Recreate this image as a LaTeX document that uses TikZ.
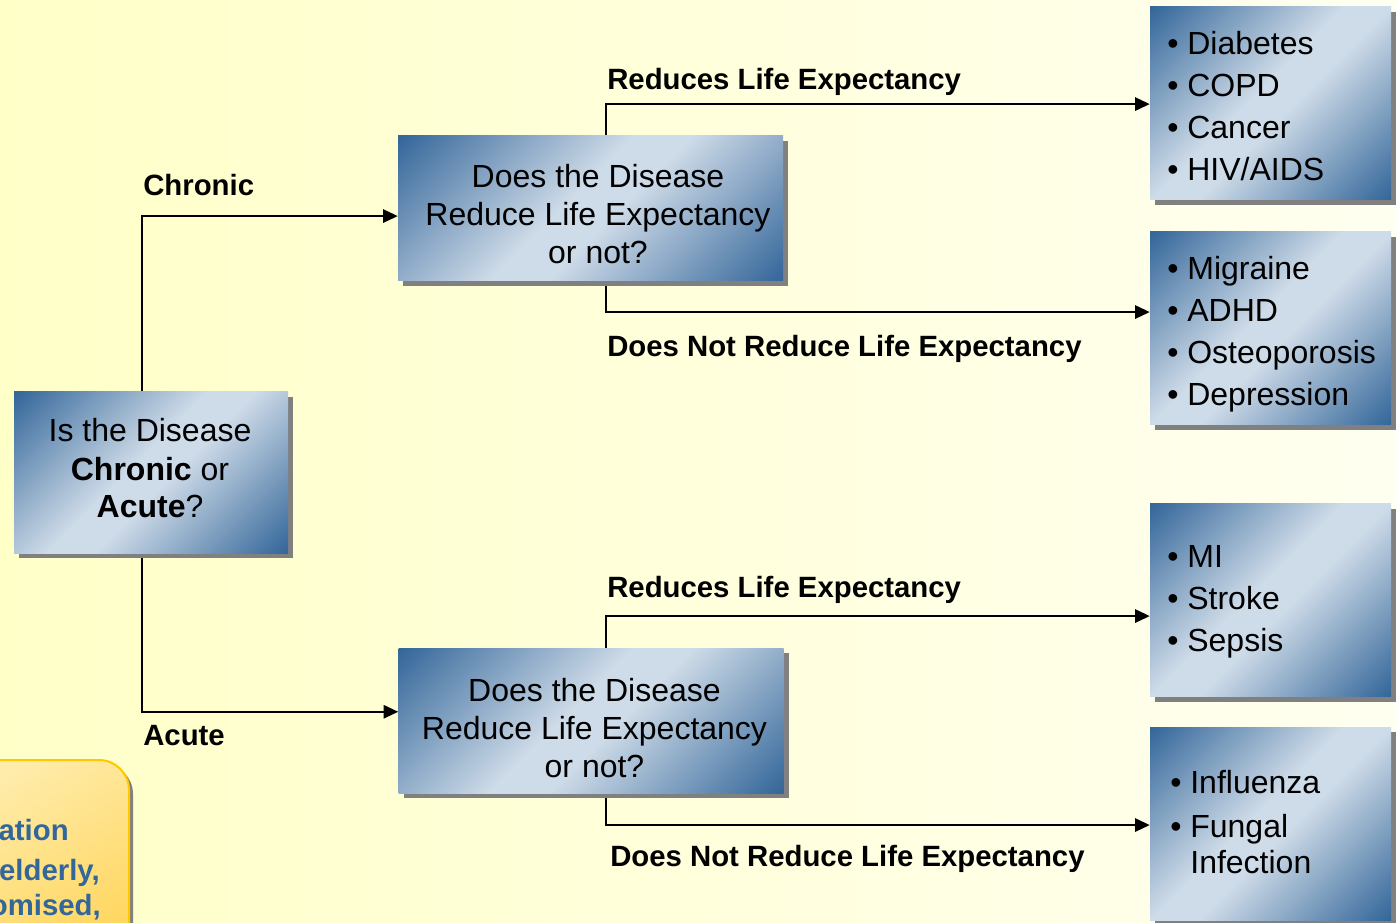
\documentclass[tikz,border=0pt]{standalone}
\usepackage{fontspec}
\setmainfont{Liberation Sans}
\usetikzlibrary{arrows.meta,shadows,calc}
\definecolor{dkb}{RGB}{51,102,153}
\definecolor{ltb}{RGB}{206,219,232}
\definecolor{bgL}{RGB}{255,255,200}
\definecolor{bgR}{RGB}{255,255,240}
\definecolor{shgray}{RGB}{128,128,128}
\definecolor{coA}{RGB}{255,236,170}
\definecolor{coB}{RGB}{255,212,90}
\definecolor{coLine}{RGB}{255,200,0}
\definecolor{coText}{RGB}{51,102,153}
\pgfdeclareverticalshading{boxshade}{100bp}{color(0bp)=(dkb); color(14.6bp)=(dkb); color(46bp)=(ltb); color(54bp)=(ltb); color(85.4bp)=(dkb); color(100bp)=(dkb)}
\pgfdeclarelayer{bg}
\pgfsetlayers{bg,main}
\begin{document}
\begin{tikzpicture}[x=0.75pt,y=-0.75pt,
  box/.style={draw=none, inner sep=0pt, shading=boxshade, shading angle=45,
    drop shadow={shadow xshift=3.75pt, shadow yshift=-3.75pt, fill=shgray, opacity=1}},
  wide/.style={minimum width=288.75pt, minimum height=108.75pt},
  list/.style={minimum width=180.75pt, minimum height=144.75pt},
  txt/.style={inner sep=0pt, font=\fontsize{24}{28.5}\selectfont},
  lbl/.style={inner sep=0pt, anchor=base west, font=\fontsize{22}{26}\selectfont\bfseries},
  conn/.style={line width=1.5pt, -{Triangle[length=11pt,width=10pt]}},
  cotxt/.style={inner sep=0pt, anchor=base east, text=coText, font=\fontsize{22}{26}\selectfont\bfseries}
]
\useasboundingbox (0,0) rectangle (1396,923);
\clip (0,0) rectangle (1396,923);
\begin{pgfonlayer}{bg}
\fill[left color=bgL, right color=bgR] (0,0) rectangle (1396,923);
\end{pgfonlayer}

% decision boxes
\node[box, minimum width=205.5pt, minimum height=120.75pt] (A) at (151,472.5) {};
\node[txt, anchor=base] (At) at (150,442) {\begin{tabular}[t]{@{}c@{}}Is the Disease\\\textbf{Chronic} or\\\textbf{Acute}?\end{tabular}};

\node[box, wide] (B1) at (590.5,208.5) {};
\node[txt, anchor=base] (B1t) at (598,188) {\begin{tabular}[t]{@{}c@{}}Does the Disease\\Reduce Life Expectancy\\or not?\end{tabular}};

\node[box, wide] (B2) at (591,720.5) {};
\node[txt, anchor=base] (B2t) at (594.5,701) {\begin{tabular}[t]{@{}c@{}}Does the Disease\\Reduce Life Expectancy\\or not?\end{tabular}};

% result boxes
\node[box, list] (C1) at (1270.5,103.5) {};
\node[txt, anchor=base west] (C1t) at (1167,55) {\begin{tabular}[t]{@{}l@{}}• Diabetes\\[3pt]• COPD\\[3pt]• Cancer\\[3pt]• HIV/AIDS\end{tabular}};

\node[box, list] (C2) at (1270.5,328.5) {};
\node[txt, anchor=base west] (C2t) at (1167,280) {\begin{tabular}[t]{@{}l@{}}• Migraine\\[3pt]• ADHD\\[3pt]• Osteoporosis\\[3pt]• Depression\end{tabular}};

\node[box, list] (C3) at (1270.5,600) {};
\node[txt, anchor=base west] (C3t) at (1167,567) {\begin{tabular}[t]{@{}l@{}}• MI\\[3pt]• Stroke\\[3pt]• Sepsis\end{tabular}};

\node[box, list] (C4) at (1270.5,823.5) {};
\node[txt, anchor=base west] (C4t) at (1170,793) {\begin{tabular}[t]{@{}l@{\ }l@{}}•&Influenza\\[4.5pt]•&Fungal\\[-1.5pt]&Infection\end{tabular}};

% callout (cut off at the left and bottom edges)
\node[draw=coLine, line width=1.5pt, rounded corners=22.5pt, top color=coA, bottom color=coB, shading angle=30,
  minimum width=126.75pt, minimum height=165pt, inner sep=0pt,
  drop shadow={shadow xshift=3pt, shadow yshift=-3pt, fill=shgray, opacity=1}] (CO) at (44.5,870) {};
\node[cotxt] (CO1) at (69,840) {ation};
\node[cotxt] (CO2) at (100,880) {elderly,};
\node[cotxt] (CO3) at (101,915) {omised,};

% connectors
\begin{pgfonlayer}{bg}
\draw[conn] ($(A.north west)!0.467!(A.north east)$) |- ($(B1.north west)!0.552!(B1.south west)$);
\draw[conn] ($(A.south west)!0.467!(A.south east)$) |- ($(B2.north west)!0.44!(B2.south west)$);
\draw[conn] ($(B1.north west)!0.54!(B1.north east)$) |- ($(C1.north west)!0.503!(C1.south west)$);
\draw[conn] ($(B1.south west)!0.54!(B1.south east)$) |- ($(C2.north west)!0.415!(C2.south west)$);
\draw[conn] ($(B2.north west)!0.54!(B2.north east)$) |- ($(C3.north west)!0.583!(C3.south west)$);
\draw[conn] ($(B2.south west)!0.54!(B2.south east)$) |- ($(C4.north west)!0.508!(C4.south west)$);
\end{pgfonlayer}

% connector labels
\node[lbl] (Lchr) at (143,196) {Chronic};
\node[lbl] (Lacu) at (143,745) {Acute};
\node[lbl] (L1) at (607,90) {Reduces Life Expectancy};
\node[lbl] (L2) at (607,357) {Does Not Reduce Life Expectancy};
\node[lbl] (L3) at (607,597) {Reduces Life Expectancy};
\node[lbl] (L4) at (610,866) {Does Not Reduce Life Expectancy};
\end{tikzpicture}
\end{document}
